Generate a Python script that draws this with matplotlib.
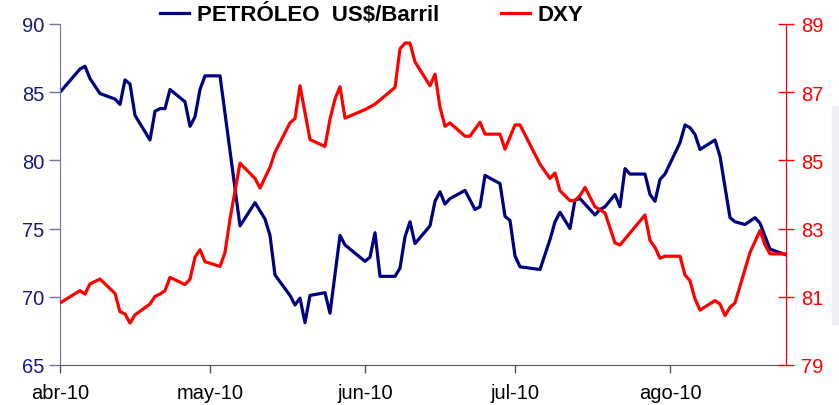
import numpy as np
import pandas as pd
import matplotlib
matplotlib.use("Agg")
import matplotlib.pyplot as plt
import matplotlib.dates as mdates
from matplotlib.patches import Rectangle

plt.rcParams['font.family'] = ['Liberation Sans', 'DejaVu Sans']

# petroleo (US$/barril), eje izquierdo
oil_dates = ["2010-04-01", "2010-04-05", "2010-04-06", "2010-04-07", "2010-04-09",
             "2010-04-12", "2010-04-13", "2010-04-14", "2010-04-15", "2010-04-16",
             "2010-04-19", "2010-04-20", "2010-04-21", "2010-04-22", "2010-04-23",
             "2010-04-26", "2010-04-27", "2010-04-28", "2010-04-29", "2010-04-30",
             "2010-05-03", "2010-05-07", "2010-05-10", "2010-05-12", "2010-05-13",
             "2010-05-14", "2010-05-17", "2010-05-18", "2010-05-19", "2010-05-20",
             "2010-05-21", "2010-05-24", "2010-05-25", "2010-05-27", "2010-05-28",
             "2010-06-01", "2010-06-02", "2010-06-03", "2010-06-04", "2010-06-07",
             "2010-06-08", "2010-06-09", "2010-06-10", "2010-06-11", "2010-06-14",
             "2010-06-15", "2010-06-16", "2010-06-17", "2010-06-18", "2010-06-21",
             "2010-06-23", "2010-06-24", "2010-06-25", "2010-06-28", "2010-06-29",
             "2010-06-30", "2010-07-01", "2010-07-02", "2010-07-06", "2010-07-08",
             "2010-07-09", "2010-07-10", "2010-07-12", "2010-07-13", "2010-07-14",
             "2010-07-17", "2010-07-18", "2010-07-19", "2010-07-21", "2010-07-22",
             "2010-07-23", "2010-07-24", "2010-07-27", "2010-07-28", "2010-07-29",
             "2010-07-30", "2010-07-31", "2010-08-03", "2010-08-04", "2010-08-05",
             "2010-08-06", "2010-08-07", "2010-08-10", "2010-08-11", "2010-08-13",
             "2010-08-14", "2010-08-16", "2010-08-18", "2010-08-19", "2010-08-21",
             "2010-08-24"]
oil = [85.0, 86.7, 86.9, 86.0, 84.9,
       84.5, 84.1, 85.9, 85.6, 83.3,
       81.5, 83.6, 83.8, 83.8, 85.2,
       84.3, 82.5, 83.2, 85.2, 86.2,
       86.2, 75.2, 76.9, 75.7, 74.5,
       71.6, 70.1, 69.4, 69.9, 68.1,
       70.1, 70.3, 68.8, 74.5, 73.8,
       72.6, 72.9, 74.7, 71.5, 71.5,
       72.1, 74.4, 75.5, 73.9, 75.2,
       77.0, 77.7, 76.8, 77.2, 77.8,
       76.4, 76.6, 78.9, 78.3, 75.9,
       75.6, 73.0, 72.2, 72.0, 74.2,
       75.5, 76.2, 75.0, 77.1, 77.2,
       76.0, 76.4, 76.6, 77.5, 76.6,
       79.4, 79.0, 79.0, 77.5, 77.0,
       78.6, 79.0, 81.3, 82.6, 82.4,
       81.9, 80.8, 81.5, 80.3, 75.8,
       75.5, 75.3, 75.8, 75.4, 73.5,
       73.1]

# indice dolar DXY, eje derecho
dxy_dates = ["2010-04-01", "2010-04-05", "2010-04-06", "2010-04-07", "2010-04-09",
             "2010-04-12", "2010-04-13", "2010-04-14", "2010-04-15", "2010-04-16",
             "2010-04-19", "2010-04-20", "2010-04-21", "2010-04-22", "2010-04-23",
             "2010-04-26", "2010-04-27", "2010-04-28", "2010-04-29", "2010-04-30",
             "2010-05-03", "2010-05-04", "2010-05-05", "2010-05-07", "2010-05-10",
             "2010-05-11", "2010-05-13", "2010-05-14", "2010-05-17", "2010-05-18",
             "2010-05-19", "2010-05-21", "2010-05-24", "2010-05-25", "2010-05-26",
             "2010-05-27", "2010-05-28", "2010-06-01", "2010-06-03", "2010-06-07",
             "2010-06-08", "2010-06-09", "2010-06-10", "2010-06-11", "2010-06-14",
             "2010-06-15", "2010-06-16", "2010-06-17", "2010-06-18", "2010-06-21",
             "2010-06-22", "2010-06-24", "2010-06-25", "2010-06-28", "2010-06-29",
             "2010-07-01", "2010-07-02", "2010-07-06", "2010-07-08", "2010-07-09",
             "2010-07-10", "2010-07-12", "2010-07-13", "2010-07-14", "2010-07-15",
             "2010-07-17", "2010-07-19", "2010-07-21", "2010-07-22", "2010-07-27",
             "2010-07-28", "2010-07-29", "2010-07-30", "2010-07-31", "2010-08-03",
             "2010-08-04", "2010-08-05", "2010-08-06", "2010-08-07", "2010-08-10",
             "2010-08-11", "2010-08-12", "2010-08-13", "2010-08-14", "2010-08-17",
             "2010-08-19", "2010-08-20", "2010-08-21", "2010-08-24"]
dxy = [80.82, 81.18, 81.08, 81.38, 81.52,
       81.10, 80.56, 80.50, 80.23, 80.47,
       80.79, 81.01, 81.08, 81.18, 81.57,
       81.36, 81.52, 82.16, 82.38, 82.03,
       81.89, 82.30, 83.28, 84.92, 84.47,
       84.19, 84.80, 85.24, 86.10, 86.23,
       87.19, 85.61, 85.41, 86.21, 86.80,
       87.16, 86.24, 86.49, 86.65, 87.14,
       88.27, 88.44, 88.44, 87.89, 87.19,
       87.53, 86.56, 86.00, 86.10, 85.71,
       85.71, 86.12, 85.77, 85.77, 85.33,
       86.04, 86.04, 84.89, 84.47, 84.63,
       84.11, 83.82, 83.82, 83.97, 84.21,
       83.64, 83.46, 82.58, 82.52, 83.40,
       82.65, 82.45, 82.13, 82.19, 82.19,
       81.64, 81.47, 80.94, 80.61, 80.89,
       80.79, 80.45, 80.69, 80.82, 82.30,
       82.94, 82.52, 82.26, 82.26]

month_ticks = ["2010-04-01", "2010-05-01", "2010-06-01", "2010-07-01", "2010-08-01"]
month_labels = ["abr-10", "may-10", "jun-10", "jul-10", "ago-10"]

navy = "#000080"
red = "#ff0000"

fig = plt.figure(figsize=(8.39, 4.06), dpi=100)
fig.patches.append(Rectangle((832 / 839, 1 - 325 / 406), 7 / 839, 218 / 406,
                             transform=fig.transFigure, color="#ededf2", zorder=0))
ax = fig.add_axes([60 / 839, 1 - 366 / 406, 726 / 839, 341 / 406])
ax2 = ax.twinx()

l1, = ax.plot(pd.to_datetime(oil_dates), oil, color=navy, lw=2.3)
l2, = ax2.plot(pd.to_datetime(dxy_dates), dxy, color=red, lw=2.3)

ax.set_xlim(pd.Timestamp("2010-04-01"), pd.Timestamp("2010-04-01") + pd.Timedelta(days=145.2))
ax.set_ylim(65, 90)
ax2.set_ylim(79, 89)
ax.set_yticks([65, 70, 75, 80, 85, 90])
ax2.set_yticks([79, 81, 83, 85, 87, 89])
ax.set_xticks(pd.to_datetime(month_ticks))
ax.set_xticklabels(month_labels)

for a in (ax, ax2):
    a.spines["top"].set_visible(False)
ax.spines["left"].set_color("#7070b0")
ax.spines["bottom"].set_color("#555555")
ax2.spines["left"].set_visible(False)
ax2.spines["bottom"].set_visible(False)
ax2.spines["right"].set_color(red)

ax.tick_params(axis="y", colors="#7070b0", labelcolor="#1a1a80", labelsize=14.5,
               length=8, width=1, direction="out", pad=3)
ax.tick_params(axis="x", colors="#555555", labelcolor="black", labelsize=14.5,
               length=6, width=1, direction="out", pad=7)
ax2.tick_params(axis="y", colors=red, labelcolor=red, labelsize=14.5,
                length=12, width=1, direction="inout", pad=5)

fig.legend([l1, l2], ["PETRÓLEO  US$/Barril", "DXY"], ncol=2, frameon=False,
           loc="center", bbox_to_anchor=(0.443, 0.962), handlelength=1.3,
           columnspacing=2.8, handletextpad=0.35,
           prop={"weight": "bold", "size": 16})

fig.savefig("out.png", dpi=100)
